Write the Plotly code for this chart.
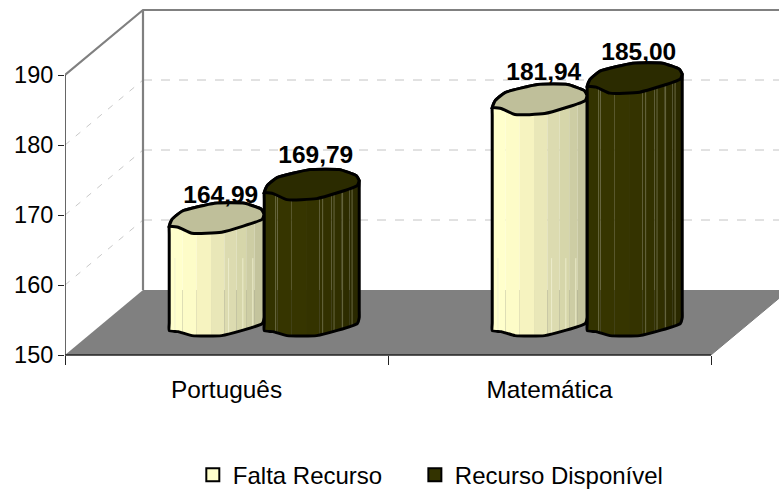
import numpy as np
import plotly.graph_objects as go

# ---- data ----
categories = ["Português", "Matemática"]
series_names = ["Falta Recurso", "Recurso Disponível"]
falta_recurso = [164.99, 181.94]
recurso_disponivel = [169.79, 185.00]
y_ticks = [150, 160, 170, 180, 190]

# ---- geometry of the picture ----
W, H = 779, 494
L_PX, FRONT_Y = 65, 355            # front-left corner of the floor
CAT_PX, VAL_PX = 323.0, 7.0        # pixels per category, pixels per unit
DEPTH_X, DEPTH_Y = 78.0, 65.0      # 3-D depth of the box
X_MIN = -0.5
X_MAX = X_MIN + (W - L_PX) / CAT_PX
Y_MIN = 150 - (H - FRONT_Y) / VAL_PX
Y_MAX = 150 + FRONT_Y / VAL_PX
FONT = "Liberation Sans, Arial, sans-serif"
SMOOTH = dict(shape="spline", smoothing=0.45)


def proj(cat, val, depth=0.0, dx=0.0, dy=0.0):
    """Data position -> axis coordinates, with oblique depth and pixel nudges."""
    return (np.asarray(cat, float) + (depth * DEPTH_X + dx) / CAT_PX,
            np.asarray(val, float) + (depth * DEPTH_Y - dy) / VAL_PX)


fig = go.Figure()


def line(xs, ys, color, width, dash="solid", **kw):
    fig.add_trace(go.Scatter(x=list(xs), y=list(ys), mode="lines", showlegend=False,
                             hoverinfo="skip", line=dict(color=color, width=width, dash=dash, **kw)))


def poly(xs, ys, fill, outline=None, width=0, **kw):
    fig.add_trace(go.Scatter(x=list(xs), y=list(ys), mode="lines", fill="toself", fillcolor=fill,
                             showlegend=False, hoverinfo="skip",
                             line=dict(color=outline or fill, width=width if outline else 0, **kw)))


# floor
x0, x1 = -0.5, 1.5
fx, fy = [], []
for c, d in [(x0, 0), (x0, 1), (x1, 1), (x1, 0)]:
    px_, py_ = proj(c, 150, d)
    fx.append(float(px_)); fy.append(float(py_))
poly(fx + fx[:1], fy + fy[:1], "#808080")
line(fx[2:4], fy[2:4], "#7a7a7a", 1)

# gridlines on walls
for t in y_ticks[1:-1]:
    a = proj(x0, t, 0); b = proj(x0, t, 1); c = proj(X_MAX, t, 1, dx=-DEPTH_X)
    line([a[0], b[0]], [a[1], b[1]], "#c8c8c8", 1, "6px,8px")
    line([b[0], c[0]], [b[1], c[1]], "#c4c4c4", 1, "9px,9px")

# walls
a = proj(x0, 190, 0); b = proj(x0, 190, 1); c = proj(x0, 150, 1); e = proj(X_MAX, 190, 1, dx=-DEPTH_X)
line([a[0], b[0], e[0]], [a[1], b[1], e[1]], "#808080", 2.2)
line([b[0], c[0]], [b[1], c[1]], "#808080", 2.2)

# axes lines
a = proj(x0, 150); b = proj(x1, 150); c = proj(x0, 190)
line([a[0], b[0]], [a[1], b[1]], "#222222", 1.3)
line([a[0], c[0]], [a[1], c[1]], "#333333", 1.5)

# ---- cylinders (faceted, Excel 3-D look) ----
HALF = 47.5
CENTER_DEPTH = 0.49
BAR_SHIFT = 48.0
BASE_VALUE = 150.36
front_x = np.array([-48, -39, -25, 5, 46, 48], float) / 48
front_y = np.array([8, 9, 15, 14, 1, -4], float)
back_x = np.array([48, 45, 28, -2, -35, -45, -48], float) / 48
back_y = np.array([-4, -9, -15, -15, -7, 1, 8], float)
bot_y = np.array([10, 11, 15, 15, 3, -3], float)
edges_x = np.array([-1, -0.72, -0.42, -0.12, 0.16, 0.42, 0.62, 0.8, 1.0])
label_dy = [[-21, -28], [-26, -24]]   # per label: pixels above the cap centre

styles = [
    dict(top="#bfbf9a",
         side=["#ffffcc", "#fdfcc8", "#f6f3c0", "#e9e7b8", "#dcdbb0", "#d6d6aa", "#cdcda4", "#c4c49d"],
         edge="#eeeecf", lines=[-0.88, 0.25, 0.55, 0.76], nudge=1.0),
    dict(top="#2b2b00",
         side=["#333300", "#363500", "#363500", "#343300", "#323100", "#302f00", "#2d2c00", "#2a2900"],
         edge="#6f6f47", lines=[-0.76, 0.23, 0.47, 0.65, 0.85], nudge=0.0),
]

values_by_series = [falta_recurso, recurso_disponivel]
label_x, label_y, label_text = [], [], []
for ci in range(len(categories)):
    for si, values in enumerate(values_by_series):
        v = values[ci]
        st = styles[si]
        shift = (si - 0.5) * 2 * BAR_SHIFT - 1.0 + st["nudge"]

        def P(u, val, dy):
            return proj(ci, val, CENTER_DEPTH, dx=shift + np.asarray(u) * HALF, dy=dy)

        # side facets
        for k, col in enumerate(st["side"]):
            us = np.linspace(edges_x[k], edges_x[k + 1], 4)
            tx, ty = P(us, v, np.interp(us, front_x, front_y))
            bx, by = P(us, BASE_VALUE, np.interp(us, front_x, bot_y))
            poly(list(tx) + list(bx[::-1]), list(ty) + list(by[::-1]), col)
        # faint vertical facet lines
        for u in st["lines"]:
            base_from = proj(ci, 150, 1)[1] if si == 0 else v
            tx, ty = P(u, base_from, 0 if si == 0 else float(np.interp(u, front_x, front_y)))
            bx, by = P(u, BASE_VALUE, float(np.interp(u, front_x, bot_y)))
            line([tx, bx], [ty, by], st["edge"], 0.9)
        # silhouette, with guide points that keep the vertical sides straight under the spline
        bx, by = P(front_x, BASE_VALUE, bot_y)
        tx, ty = P(back_x, v, back_y)
        gr1 = P(1, BASE_VALUE, -11); gr2 = P(1, v, 4)
        gl1 = P(-1, v, 16); gl2 = P(-1, BASE_VALUE, 2)
        sx = list(bx) + [gr1[0], gr2[0]] + list(tx) + [gl1[0], gl2[0], bx[0]]
        sy = list(by) + [gr1[1], gr2[1]] + list(ty) + [gl1[1], gl2[1], by[0]]
        line(sx, sy, "#000000", 3, **SMOOTH)
        # top cap
        fx_, fy_ = P(front_x, v, front_y)
        poly(list(tx) + list(fx_) + [tx[0]], list(ty) + list(fy_) + [ty[0]], st["top"], "#000000", 3, **SMOOTH)
        # label anchor
        lx, ly = P(0, v, label_dy[ci][si])
        label_x.append(float(lx) + 4 / CAT_PX)
        label_y.append(float(ly))
        label_text.append(f"{v:.2f}".replace(".", ","))

fig.add_trace(go.Scatter(x=label_x, y=label_y, mode="text", text=label_text, showlegend=False,
                         textposition="middle center", hoverinfo="skip", cliponaxis=False,
                         textfont=dict(family=FONT, size=24.5, color="#000000", weight="bold")))

# legend entries, one legend each so they can sit where the reference has them
for name, col, leg in zip(series_names, ["#ffffcc", "#333300"], ["legend", "legend2"]):
    fig.add_trace(go.Scatter(x=[None], y=[None], mode="markers", name=name, legend=leg, showlegend=True,
                             marker=dict(symbol="square", size=13, color=col,
                                         line=dict(color="#000000", width=2))))

legend_style = dict(orientation="h", y=0.038, yanchor="middle", xanchor="left",
                    font=dict(size=24), bgcolor="rgba(0,0,0,0)", itemwidth=30)

fig.update_layout(
    width=W, height=H, autosize=False,
    paper_bgcolor="#ffffff", plot_bgcolor="#ffffff",
    margin=dict(l=L_PX, r=0, t=0, b=0, autoexpand=False),
    font=dict(family=FONT, size=24, color="#000000"),
    xaxis=dict(range=[X_MIN, X_MAX], anchor="free", position=(H - FRONT_Y) / H,
               tickmode="array", tickvals=list(range(len(categories))), ticktext=categories,
               ticks="", showgrid=False, zeroline=False, showline=False,
               ticklabelstandoff=18, tickfont=dict(size=24.4),
               minor=dict(tickmode="array", tickvals=[-0.5, 0.5, 1.5], ticks="outside",
                          ticklen=9, tickwidth=1.2, tickcolor="#222222", showgrid=False)),
    yaxis=dict(range=[Y_MIN, Y_MAX], tickmode="array", tickvals=y_ticks,
               ticks="outside", ticklen=6, tickwidth=1.3, tickcolor="#222222",
               showgrid=False, zeroline=False, showline=False, tickfont=dict(size=23.5)),
    legend=dict(x=0.179, **legend_style),
    legend2=dict(x=0.490, **legend_style),
    showlegend=True,
)

fig.write_html("out.html", config={"displayModeBar": False},
               post_script="document.body.style.margin='0';")
